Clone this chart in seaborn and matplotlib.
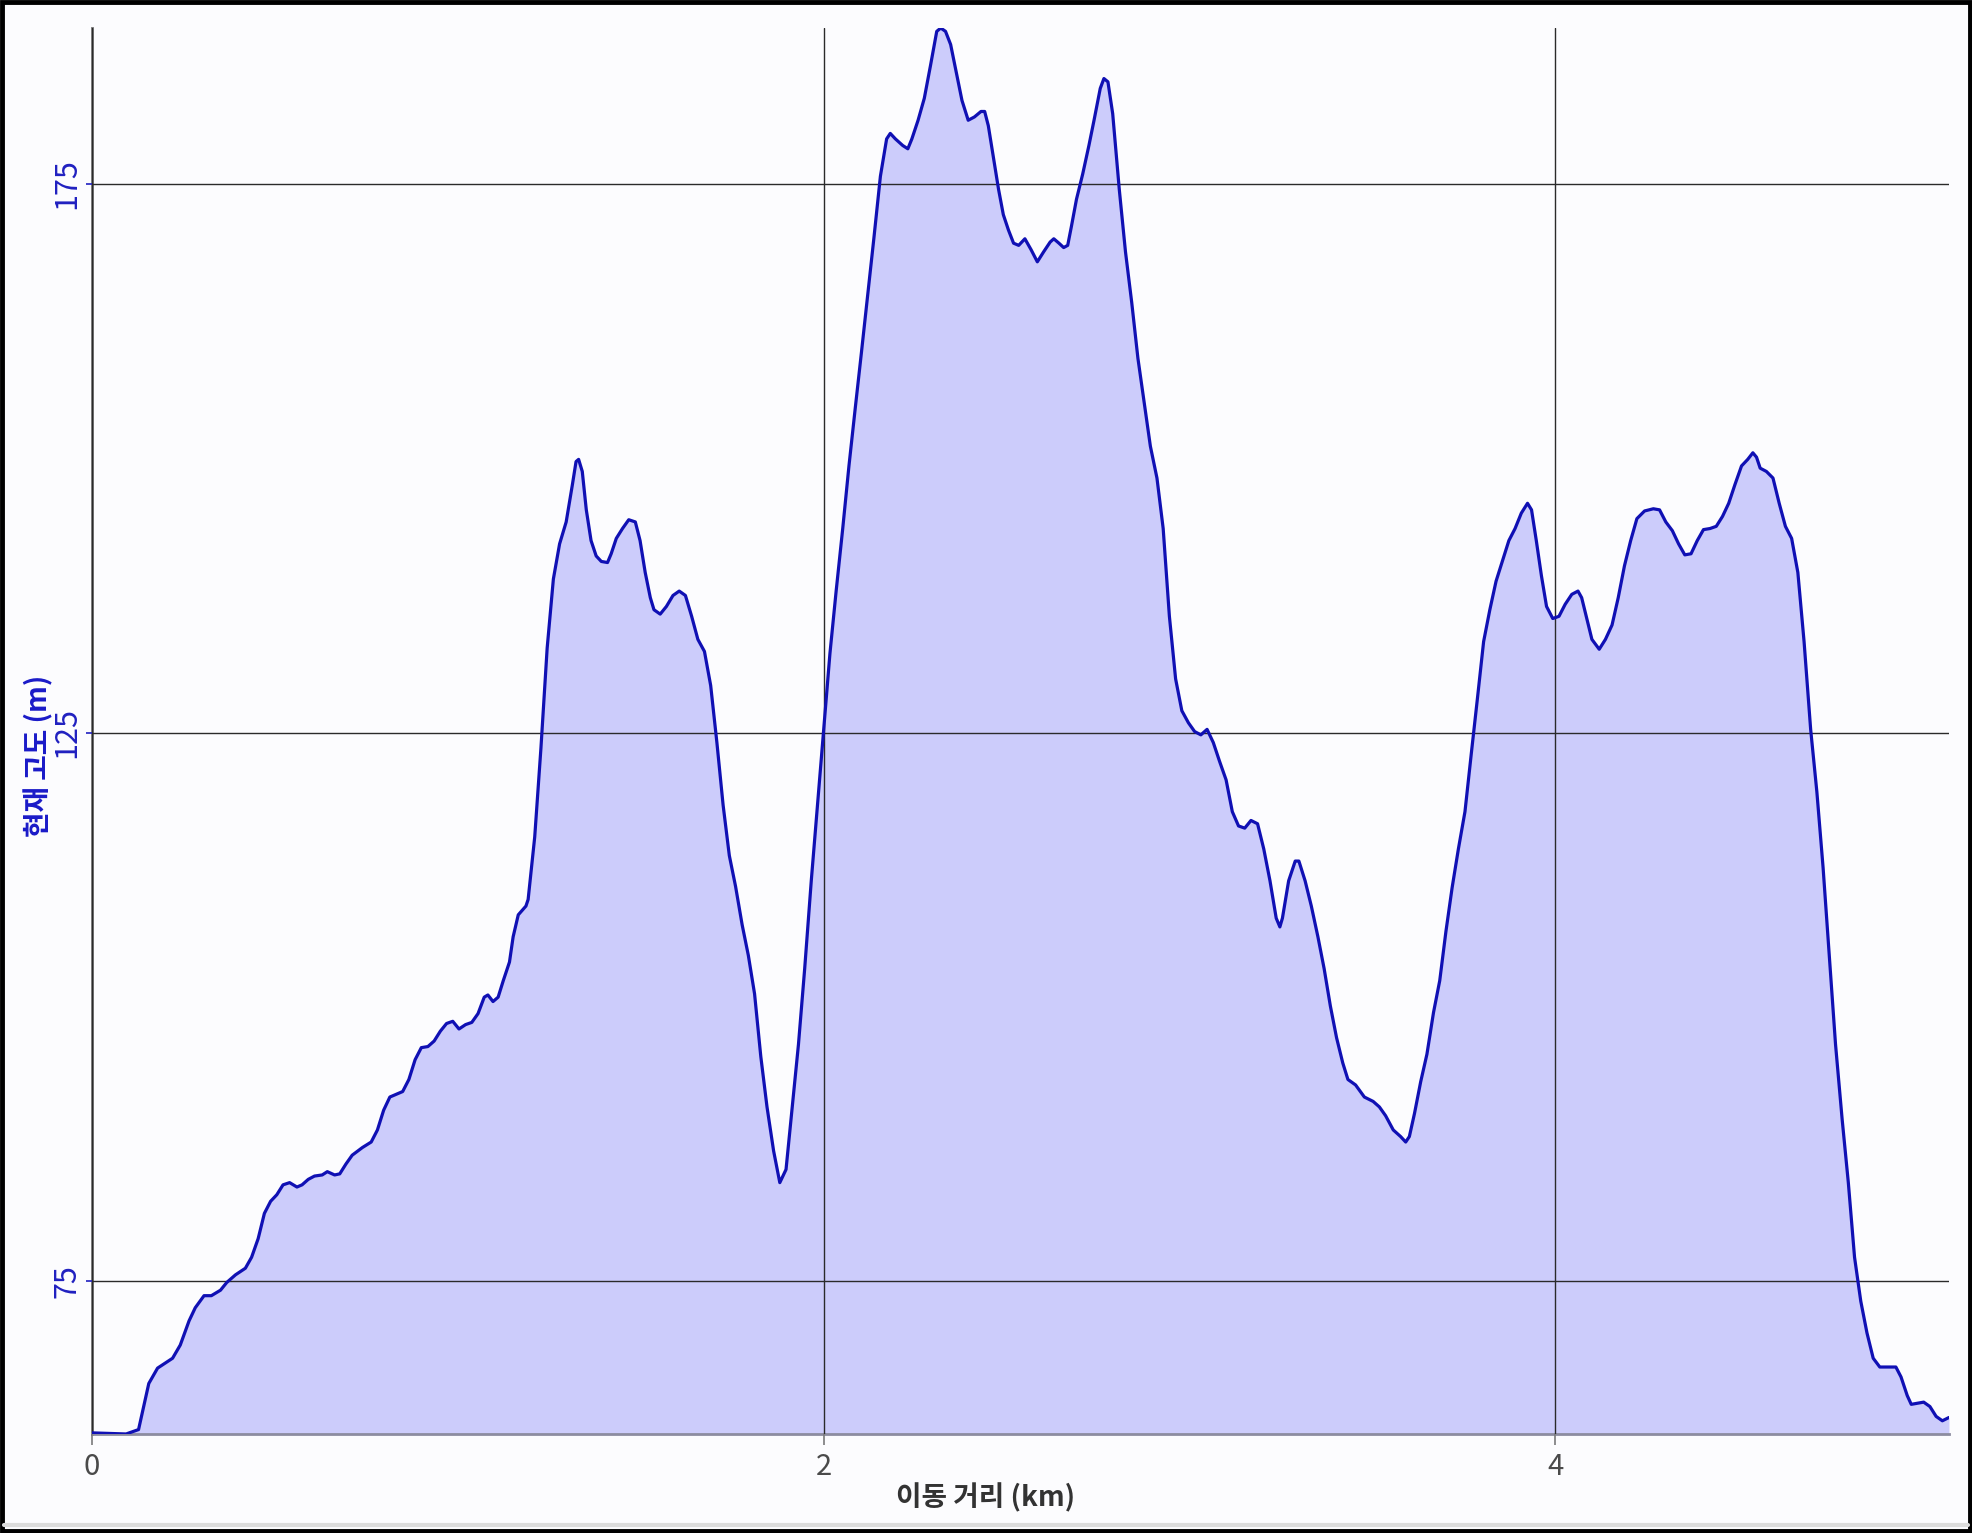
import numpy as np
import pandas as pd
import matplotlib
matplotlib.use("Agg")
import matplotlib.pyplot as plt
import seaborn as sns
from matplotlib.patches import Rectangle
from matplotlib.lines import Line2D

# distance along the route (km) and elevation (m)
distance_km = [
    0.000, 0.093, 0.127, 0.155, 0.179, 0.220, 0.241, 0.265, 0.282, 0.306,
    0.326, 0.351, 0.368, 0.392, 0.419, 0.436, 0.454, 0.471, 0.488, 0.505,
    0.522, 0.540, 0.560, 0.574, 0.591, 0.608, 0.629, 0.643, 0.663, 0.677,
    0.694, 0.711, 0.739, 0.763, 0.780, 0.797, 0.814, 0.835, 0.849, 0.866,
    0.883, 0.900, 0.918, 0.935, 0.952, 0.969, 0.986, 1.003, 1.021, 1.038,
    1.055, 1.072, 1.082, 1.096, 1.110, 1.124, 1.141, 1.151, 1.165, 1.186,
    1.192, 1.210, 1.227, 1.244, 1.261, 1.278, 1.296, 1.313, 1.323, 1.330,
    1.340, 1.351, 1.364, 1.378, 1.392, 1.409, 1.419, 1.433, 1.450, 1.467,
    1.485, 1.498, 1.512, 1.526, 1.536, 1.553, 1.570, 1.588, 1.605, 1.622,
    1.639, 1.656, 1.674, 1.691, 1.708, 1.725, 1.742, 1.759, 1.777, 1.794,
    1.811, 1.828, 1.845, 1.863, 1.880, 1.897, 1.914, 1.931, 1.948, 1.966,
    1.983, 2.000, 2.017, 2.034, 2.052, 2.069, 2.086, 2.103, 2.120, 2.137,
    2.155, 2.172, 2.182, 2.196, 2.216, 2.230, 2.241, 2.258, 2.275, 2.292,
    2.309, 2.320, 2.333, 2.347, 2.361, 2.378, 2.395, 2.412, 2.430, 2.440,
    2.450, 2.464, 2.478, 2.491, 2.505, 2.519, 2.533, 2.550, 2.567, 2.584,
    2.601, 2.619, 2.629, 2.643, 2.656, 2.667, 2.677, 2.691, 2.708, 2.725,
    2.739, 2.756, 2.766, 2.777, 2.790, 2.808, 2.825, 2.842, 2.859, 2.876,
    2.893, 2.911, 2.928, 2.945, 2.962, 2.979, 2.997, 3.014, 3.031, 3.048,
    3.065, 3.082, 3.100, 3.117, 3.134, 3.151, 3.168, 3.186, 3.203, 3.220,
    3.237, 3.247, 3.254, 3.271, 3.289, 3.299, 3.316, 3.333, 3.351, 3.368,
    3.385, 3.402, 3.419, 3.433, 3.454, 3.478, 3.502, 3.519, 3.536, 3.557,
    3.577, 3.591, 3.601, 3.615, 3.632, 3.649, 3.667, 3.684, 3.701, 3.718,
    3.735, 3.753, 3.770, 3.787, 3.804, 3.821, 3.838, 3.856, 3.873, 3.890,
    3.907, 3.924, 3.935, 3.948, 3.962, 3.976, 3.993, 4.010, 4.027, 4.045,
    4.062, 4.072, 4.086, 4.100, 4.120, 4.137, 4.155, 4.172, 4.189, 4.206,
    4.223, 4.244, 4.268, 4.285, 4.302, 4.320, 4.337, 4.354, 4.371, 4.388,
    4.405, 4.423, 4.440, 4.457, 4.474, 4.491, 4.509, 4.526, 4.540, 4.550,
    4.560, 4.577, 4.595, 4.612, 4.629, 4.646, 4.663, 4.680, 4.698, 4.715,
    4.732, 4.749, 4.766, 4.784, 4.801, 4.818, 4.835, 4.852, 4.869, 4.887,
    4.904, 4.931, 4.945, 4.962, 4.973, 4.990, 5.007, 5.024, 5.041, 5.058,
    5.076,
]
elevation_m = [
    61.2, 61.1, 61.5, 65.7, 67.1, 68.0, 69.2, 71.4, 72.6, 73.7,
    73.7, 74.2, 74.9, 75.6, 76.2, 77.2, 78.9, 81.2, 82.3, 82.9,
    83.8, 84.0, 83.6, 83.8, 84.3, 84.6, 84.7, 85.0, 84.7, 84.8,
    85.7, 86.5, 87.2, 87.7, 88.8, 90.6, 91.8, 92.1, 92.3, 93.4,
    95.2, 96.3, 96.4, 96.9, 97.8, 98.5, 98.7, 98.0, 98.4, 98.6,
    99.4, 100.9, 101.1, 100.5, 100.9, 102.4, 104.1, 106.4, 108.4, 109.2,
    109.8, 115.5, 123.6, 132.7, 139.0, 142.2, 144.2, 147.6, 149.7, 149.9,
    148.8, 145.3, 142.5, 141.1, 140.6, 140.5, 141.3, 142.7, 143.6, 144.4,
    144.2, 142.5, 139.6, 137.3, 136.2, 135.8, 136.5, 137.5, 137.9, 137.5,
    135.6, 133.5, 132.4, 129.3, 124.1, 118.4, 113.8, 111.0, 107.5, 104.7,
    101.2, 95.5, 90.9, 86.9, 84.0, 85.2, 90.9, 96.6, 103.5, 111.5,
    118.4, 125.3, 132.2, 137.9, 143.6, 149.3, 154.5, 159.6, 164.8, 170.0,
    175.7, 179.1, 179.6, 179.1, 178.5, 178.2, 179.1, 180.8, 182.8, 185.8,
    188.9, 189.2, 188.9, 187.7, 185.4, 182.6, 180.8, 181.1, 181.6, 181.6,
    180.3, 177.4, 174.5, 172.2, 170.8, 169.6, 169.4, 170.0, 169.0, 167.9,
    168.8, 169.7, 170.0, 169.6, 169.2, 169.4, 171.1, 173.6, 175.9, 178.5,
    180.8, 183.7, 184.6, 184.3, 181.4, 174.5, 168.8, 164.2, 159.1, 155.1,
    151.1, 148.2, 143.6, 135.6, 129.9, 127.0, 125.9, 125.1, 124.8, 125.3,
    124.1, 122.4, 120.7, 117.8, 116.5, 116.3, 117.0, 116.7, 114.4, 111.5,
    108.1, 107.3, 108.1, 111.5, 113.3, 113.3, 111.5, 109.2, 106.4, 103.5,
    100.1, 97.2, 94.9, 93.4, 92.9, 91.8, 91.4, 90.9, 90.1, 88.8,
    88.2, 87.7, 88.2, 90.3, 93.2, 95.7, 99.5, 102.4, 106.9, 110.9,
    114.4, 117.8, 123.0, 128.1, 133.3, 136.2, 138.8, 140.7, 142.5, 143.6,
    145.0, 145.9, 145.3, 142.5, 139.3, 136.5, 135.4, 135.6, 136.7, 137.6,
    137.9, 137.3, 135.4, 133.5, 132.6, 133.5, 134.8, 137.3, 140.2, 142.5,
    144.5, 145.2, 145.4, 145.3, 144.2, 143.4, 142.2, 141.2, 141.3, 142.5,
    143.5, 143.6, 143.8, 144.7, 145.9, 147.6, 149.3, 149.9, 150.5, 150.1,
    149.1, 148.8, 148.2, 145.9, 143.8, 142.7, 139.6, 133.3, 125.3, 119.6,
    112.7, 104.7, 96.6, 89.8, 84.0, 77.2, 73.2, 70.3, 68.0, 67.2,
    67.2, 67.2, 66.3, 64.6, 63.8, 63.9, 64.0, 63.6, 62.7, 62.3,
    62.6,
]
x_ticks = [0, 2, 4]
y_ticks = [75, 125, 175]
x_label = "이동 거리 (km)"
y_label = "현재 고도 (m)"

line_color = "#1010b4"
fill_color = "#ccccfb"
tick_blue = "#2020c0"

sns.set_theme(style="white")
plt.rcParams["font.family"] = ["Noto Sans CJK KR", "DejaVu Sans"]

df = pd.DataFrame({"distance": distance_km, "elevation": elevation_m})

fig = plt.figure(figsize=(19.72, 15.33), dpi=100, facecolor="#fcfcfe")
ax = fig.add_axes([0.0467, 0.0646, 0.9416, 0.9171])
ax.set_facecolor("#fcfcfe")

ax.fill_between(df["distance"], df["elevation"], min(elevation_m),
                color=fill_color, linewidth=0, zorder=2)
sns.lineplot(data=df, x="distance", y="elevation", ax=ax, color=line_color,
             linewidth=2.3, zorder=3, sort=False,
             solid_joinstyle="round", solid_capstyle="round")

ax.set_xlim(0, max(distance_km))
ax.set_ylim(min(elevation_m), max(elevation_m))
ax.set_xticks(x_ticks)
ax.set_yticks(y_ticks)
ax.set_xticklabels([str(t) for t in x_ticks])
ax.set_yticklabels([str(t) for t in y_ticks], rotation=90, va="center")

# grid lines sit above the fill, below the profile line
ax.set_axisbelow(False)
ax.grid(True, color="#2a2a2a", linewidth=1.0)
for gl in ax.get_xgridlines() + ax.get_ygridlines():
    gl.set_zorder(2.5)

for side in ["top", "right"]:
    ax.spines[side].set_visible(False)
ax.spines["left"].set_color("#6e6e6e")
ax.spines["left"].set_linewidth(2)
ax.spines["bottom"].set_color("#8c8ca0")
ax.spines["bottom"].set_linewidth(2)

ax.tick_params(axis="x", bottom=True, length=8, width=1.2, color="#7a7a7a",
               labelsize=21, labelcolor="#4a4a4a", pad=5)
ax.tick_params(axis="y", left=True, length=4, width=1.2, color=tick_blue,
               labelsize=22, labelcolor=tick_blue, pad=3)

ax.set_xlabel(x_label, fontsize=20, fontweight="bold", color="#333333")
ax.set_ylabel(y_label, fontsize=20, fontweight="bold", color="#1a1ac8")
ax.xaxis.set_label_coords(0.481, -0.035)
ax.yaxis.set_label_coords(-0.021, 0.482)

# outer frame of the picture
fig.add_artist(Line2D([0.002, 0.998], [0.0055, 0.0055], transform=fig.transFigure,
                      color="#dcdcdc", linewidth=3))
fig.add_artist(Rectangle((0.001, 0.0015), 0.998, 0.997, transform=fig.transFigure,
                         fill=False, edgecolor="black", linewidth=3.5))

fig.savefig("out.png", dpi=100, facecolor=fig.get_facecolor())
